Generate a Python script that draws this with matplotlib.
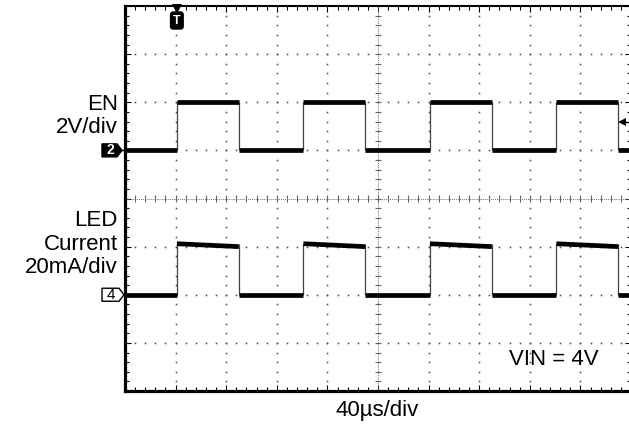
import numpy as np
import matplotlib.pyplot as plt
from matplotlib.patches import Polygon

plt.rcParams['font.family'] = ['Liberation Sans', 'DejaVu Sans']

t_end_us = 400                      # 10 divisiones x 40us
rise_us = [41, 141, 241, 341]       # flancos de subida (EN y LED)
fall_us = [90, 190, 290, 390]       # flancos de bajada
en_low_v, en_high_v = 0.0, 2.0
led_low_ma = 0.0
led_high_start_ma = 21.2            # pequeno sobreimpulso al encender
led_high_end_ma = 20.0
trig_level_v = 1.16

# Escalas de los canales (div)
us_div = 40
en_v_div, en_ground_div = 2.0, 1.0
led_ma_div, led_ground_div = 20.0, -2.0

def en_div(v):
    return en_ground_div + v / en_v_div

def led_div(ma):
    return led_ground_div + ma / led_ma_div

fig = plt.figure(figsize=(6.29, 4.25), dpi=100)
W, H = 629, 425
px = us_div / 50.6   # us por pixel
py = 1 / 48.1        # div por pixel
ax = fig.add_axes([125 / W, 34 / H, 506 / W, 385 / H])
ax.set_xlim(0, t_end_us)
ax.set_ylim(-4, 4)

# Reticula punteada
gcol = '#444444'
ydots = np.arange(-4, 4.001, 0.2)
xdots = np.arange(0, t_end_us + 0.1, us_div / 5)
for k in range(1, 10):
    if k == 5:
        continue
    ax.plot(np.full_like(ydots, k * us_div), ydots, ls='none', marker='s', ms=1.1,
            mew=0, color=gcol)
for k in range(-3, 4):
    if k == 0:
        continue
    ax.plot(xdots, np.full_like(xdots, k), ls='none', marker='s', ms=1.1, mew=0, color=gcol)

# Ejes centrales con marcas
ax.axhline(0, color='#777777', lw=0.7, ls=(0, (1, 1)))
ax.axvline(5 * us_div, color='#777777', lw=0.7, ls=(0, (1, 1)))
ax.vlines(xdots, -3 * py, 3 * py, color='#666666', lw=0.8)
ax.hlines(ydots, 5 * us_div - 3 * px, 5 * us_div + 3 * px, color='#666666', lw=0.8)

# Marco
ax.set_xticks(np.arange(0, t_end_us + 1, us_div))
ax.set_xticks(xdots, minor=True)
ax.set_yticks(np.arange(-4, 5, 1))
ax.set_yticks(ydots, minor=True)
ax.tick_params(which='both', direction='in', top=True, right=True,
               labelbottom=False, labelleft=False, color='black')
ax.tick_params(which='major', length=4, width=0.8)
ax.tick_params(which='minor', length=3, width=0.8)
ax.spines['left'].set_linewidth(2.3)
ax.spines['bottom'].set_linewidth(2.3)
ax.spines['top'].set_linewidth(1.5)
ax.spines['right'].set_visible(False)

# Trazas
low_start = [0] + fall_us
low_end = rise_us + [t_end_us]
edges = sorted(rise_us + fall_us)
n_low = len(low_start)
n_high = len(rise_us)
lw_tr = 3.4

ax.vlines(edges, en_div(en_low_v), en_div(en_high_v), color='#444444', lw=0.9)
ax.hlines(np.full(n_low, en_div(en_low_v)), low_start, low_end, color='black', lw=lw_tr)
ax.hlines(np.full(n_high, en_div(en_high_v)), rise_us, fall_us, color='black', lw=lw_tr)

ax.vlines(edges, led_div(led_low_ma), led_div(led_high_start_ma), color='#444444', lw=0.9)
ax.hlines(np.full(n_low, led_div(led_low_ma)), low_start, low_end, color='black', lw=lw_tr)
for r, f in zip(rise_us, fall_us):
    ax.plot([r, f], [led_div(led_high_start_ma), led_div(led_high_end_ma)],
            color='black', lw=lw_tr, solid_capstyle='butt')

# Marcadores de canal
y2 = en_div(en_low_v)
m2 = Polygon([[-23 * px, y2 + 6.5 * py], [-8 * px, y2 + 6.5 * py], [-3 * px, y2],
              [-8 * px, y2 - 6.5 * py], [-23 * px, y2 - 6.5 * py]],
             closed=True, fc='black', ec='black', clip_on=False)
ax.add_patch(m2)
ax.text(-15 * px, y2, '2', color='white', fontsize=10, fontweight='bold',
        ha='center', va='center', clip_on=False)
ax.plot([-3 * px, 0], [y2, y2], color='black', lw=1, clip_on=False)

y4 = led_div(led_low_ma)
m4 = Polygon([[-23 * px, y4 + 6.5 * py], [-6 * px, y4 + 6.5 * py], [-1 * px, y4],
              [-6 * px, y4 - 6.5 * py], [-23 * px, y4 - 6.5 * py]],
             closed=True, fc='white', ec='black', lw=1.0, clip_on=False)
ax.add_patch(m4)
ax.text(-14.5 * px, y4, '4', color='black', fontsize=11,
        ha='center', va='center', clip_on=False)

# Disparo (T) y nivel de disparo
ax.plot([rise_us[0]], [4 - 3 * py], marker='v', ms=7, color='black',
        mew=0, clip_on=False)
ax.text(rise_us[0], 4 - 14.5 * py, 'T', color='white', fontsize=9, fontweight='bold',
        ha='center', va='center',
        bbox=dict(boxstyle='round,pad=0.2', fc='black', ec='black'))
yt = en_div(trig_level_v)
ax.plot([t_end_us - 9 * px], [yt], marker='<', ms=6, color='black', mew=0)
ax.plot([t_end_us - 9 * px, t_end_us], [yt, yt], color='black', lw=1)

# Textos
def ftxt(x, y, s, ha='right'):
    fig.text(x / W, 1 - y / H, s, fontsize=16, ha=ha, va='baseline')

ftxt(118, 110, 'EN')
ftxt(118, 133, '2V/div')
ftxt(118, 226, 'LED')
ftxt(118, 250, 'Current')
ftxt(118, 273, '20mA/div')
ftxt(554, 365, 'VIN = 4V', ha='center')
ftxt(377, 416, '40\u00b5s/div', ha='center')

plt.savefig('out.png', dpi=100)
